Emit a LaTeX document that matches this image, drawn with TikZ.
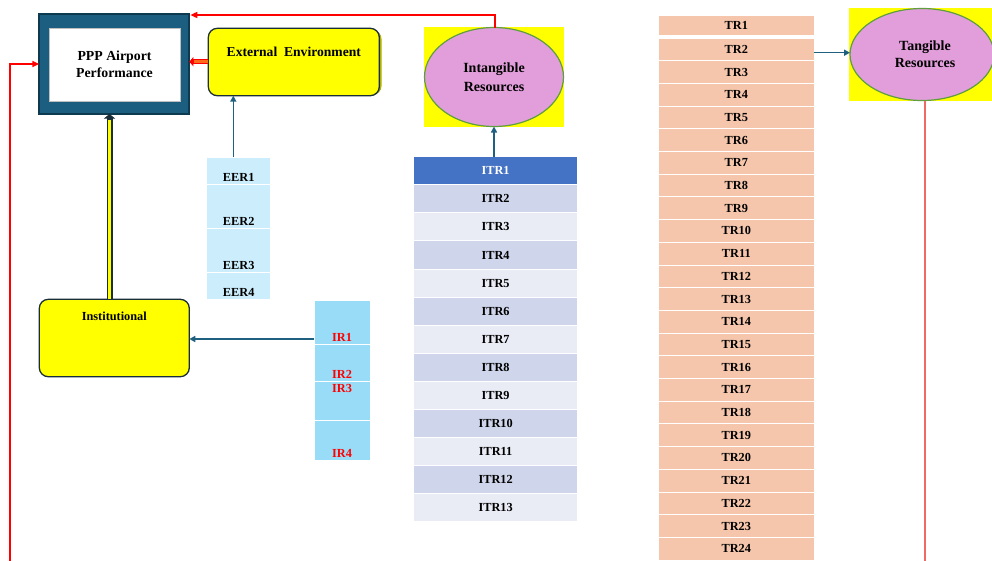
\documentclass[tikz,border=0pt]{standalone}
\usepackage{fontspec}
\setmainfont{Liberation Serif}
\usetikzlibrary{arrows.meta,shapes.geometric}

\definecolor{pppblue}{HTML}{1C5E80}
\definecolor{pppdark}{HTML}{0E3A50}
\definecolor{boxline}{HTML}{1A2E3A}
\definecolor{arrowblue}{HTML}{1F6080}
\definecolor{ellgreen}{HTML}{5E9E3E}
\definecolor{orchidfill}{HTML}{E29EDB}
\definecolor{eercol}{HTML}{CCEEFC}
\definecolor{ircol}{HTML}{99DCF7}
\definecolor{itrhead}{HTML}{4472C4}
\definecolor{itrdark}{HTML}{CFD5EA}
\definecolor{itrlight}{HTML}{E9EBF5}
\definecolor{trcol}{HTML}{F5C6AB}
\definecolor{linkred}{HTML}{FF0000}
\definecolor{tangred}{HTML}{F06868}
\definecolor{shadowolive}{HTML}{B0B000}
\definecolor{pureyellow}{HTML}{FFFF00}
\definecolor{arroworange}{HTML}{FF6A1A}

\tikzset{
  txt/.style={font=\bfseries\fontsize{12.3}{14}\selectfont},
  bigtxt/.style={font=\bfseries\fontsize{14}{19}\selectfont, align=center},
  plain/.style={inner sep=0pt, outer sep=0pt},
  yellowbox/.style={plain, rectangle, rounded corners=9pt, fill=pureyellow, draw=boxline, line width=1.3pt},
  cellrow/.style={plain, rectangle, draw=white, line width=1pt, txt},
  itrrow/.style={cellrow, minimum width=164.7pt, minimum height=28.08pt},
  trrow/.style={cellrow, fill=trcol, minimum width=156pt, minimum height=22.7pt},
  eerrow/.style={cellrow, fill=eercol, minimum width=64pt},
  irrow/.style={cellrow, fill=ircol, minimum width=56pt, text=linkred},
  resell/.style={plain, ellipse, fill=orchidfill, draw=ellgreen, line width=1.2pt},
  bluearrow/.style={draw=arrowblue, line width=1.5pt, -{Triangle[length=6pt,width=6pt]}},
  redarrow/.style={draw=linkred, line width=1.5pt, -{Triangle[length=7pt,width=6pt]}},
}

\begin{document}
\begin{tikzpicture}[x=1pt, y=-1pt]
\useasboundingbox (0,0) rectangle (992,560);
\fill[white] (0,0) rectangle (992,560);

% ---------- PPP Airport Performance ----------
\node[plain, rectangle, fill=pppblue, draw=pppdark, line width=1.8pt,
      minimum width=150pt, minimum height=100pt] (ppp) at (114.3,64) {};
\node[plain, rectangle, fill=white, draw=gray!50, line width=1pt,
      minimum width=131pt, minimum height=73pt,
      font=\bfseries\fontsize{13.8}{17}\selectfont, align=center] (ppptxt) at (114.5,64.5)
      {PPP Airport\\Performance};

% ---------- External Environment ----------
\node[plain, rectangle, rounded corners=9pt, fill=shadowolive,
      minimum width=171pt, minimum height=65pt] (extshadow) at (296,62.5) {};
\node[yellowbox, minimum width=171pt, minimum height=67.4pt] (ext) at (293.8,62) {};
\node[anchor=base, plain, font=\bfseries\fontsize{13.6}{15}\selectfont] (extlabel)
      at (293.8,56.7) {External\ \ Environment};

% ---------- Institutional ----------
\node[yellowbox, minimum width=150pt, minimum height=77.4pt] (inst) at (114.3,338) {};
\node[anchor=base, plain, txt] (instlabel) at (114.3,320.7) {Institutional};

% ---------- EER column ----------
\node[eerrow, minimum height=27pt,
      label={[anchor=base, yshift=2.2pt, txt]south:EER1}] (eer1) at (238.7,170.5) {};
\node[eerrow, minimum height=44pt,
      label={[anchor=base, yshift=2.2pt, txt]south:EER2}] (eer2) at (238.7,206) {};
\node[eerrow, minimum height=44pt,
      label={[anchor=base, yshift=2.2pt, txt]south:EER3}] (eer3) at (238.7,250) {};
\node[eerrow, minimum height=27pt,
      label={[anchor=base, yshift=2.4pt, txt]south:EER4}] (eer4) at (238.7,285.5) {};

% ---------- IR column ----------
\node[irrow, minimum height=44pt,
      label={[anchor=base, yshift=2.2pt, txt, text=linkred]south:IR1}] (ir1) at (342,322) {};
\node[irrow, minimum height=37pt,
      label={[anchor=base, yshift=2.4pt, txt, text=linkred]south:IR2}] (ir2) at (342,362.5) {};
\node[irrow, minimum height=39pt,
      label={[anchor=base, yshift=-11.5pt, txt, text=linkred]north:IR3}] (ir3) at (342,400.5) {};
\node[irrow, minimum height=40pt,
      label={[anchor=base, yshift=2.2pt, txt, text=linkred]south:IR4}] (ir4) at (342,440) {};

% ---------- Intangible resources ----------
\node[plain, rectangle, fill=pureyellow, minimum width=140pt, minimum height=100pt] (intgbg) at (494,77) {};
\node[resell, minimum width=139pt, minimum height=99pt, bigtxt] (intg) at (494,77)
      {Intangible\\Resources};

\foreach \i in {1,...,13}{
  \ifnum\i=1 \def\rowfill{itrhead}\def\rowtext{white}\else
    \ifodd\i \def\rowfill{itrlight}\else \def\rowfill{itrdark}\fi
    \def\rowtext{black}\fi
  \node[itrrow, fill=\rowfill, text=\rowtext] (itr\i) at (495.6,{156.7+28.08*(\i-0.5)}) {ITR\i};
}

% ---------- Tangible resources ----------
\node[plain, rectangle, fill=pureyellow, minimum width=146pt, minimum height=93pt] (tangbg) at (922,54.5) {};
\node[resell, minimum width=144pt, minimum height=92pt] (tang) at (922,54.5) {};
\node[bigtxt, plain, font=\bfseries\fontsize{14}{17}\selectfont] (tanglabel) at (925,54) {Tangible\\Resources};

\node[trrow, minimum height=20.5pt] (tr1) at (736.3,25.5) {TR1};
\foreach \i in {2,...,24}{
  \node[trrow] (tr\i) at (736.3,{38+22.7*(\i-2)+11.35}) {TR\i};
}

% ---------- connectors ----------
\draw[bluearrow] (eer1.north -| 233.3,0) -- (ext.south -| 233.3,0);
\draw[bluearrow] (itr1.north -| intg.south) -- (intg.south);
\draw[bluearrow] (ir1.west |- 0,339) -- (inst.east |- 0,339);
\draw[bluearrow] (tr2.east |- 0,52.7) -- (tang.west |- 0,52.7);

% Institutional into performance: outlined yellow shaft
\draw[draw=boxline, line width=6pt, -{Triangle[length=4.5pt,width=11pt]}]
  (inst.north -| 109.5,0) -- (ppp.south -| 109.5,0);
\draw[pureyellow, line width=2.4pt] (inst.north -| 109.5,0) -- ([yshift=-5.5pt]ppp.south -| 109.5,0);

% External environment into performance: outlined orange shaft
\draw[draw=linkred, line width=5pt, -{Triangle[length=4pt,width=9pt]}]
  (ext.west |- 0,61.7) -- (ppp.east |- 0,61.7);
\draw[arroworange, line width=2.5pt] ([xshift=-0.5pt]ext.west |- 0,61.7) -- ([xshift=5pt]ppp.east |- 0,61.7);

% red feedback lines
\coordinate (leftfoot) at (10,565);
\coordinate (tangfoot) at (925,565);
\draw[redarrow] (leftfoot) |- (ppp.west |- 0,64);
\draw[redarrow] (intg.north -| 495,0) |- ([xshift=1pt]ppp.north east |- 0,15);
\draw[draw=tangred, line width=1.6pt] (tang.south -| 925,0) -- (tangfoot);
\end{tikzpicture}
\end{document}
